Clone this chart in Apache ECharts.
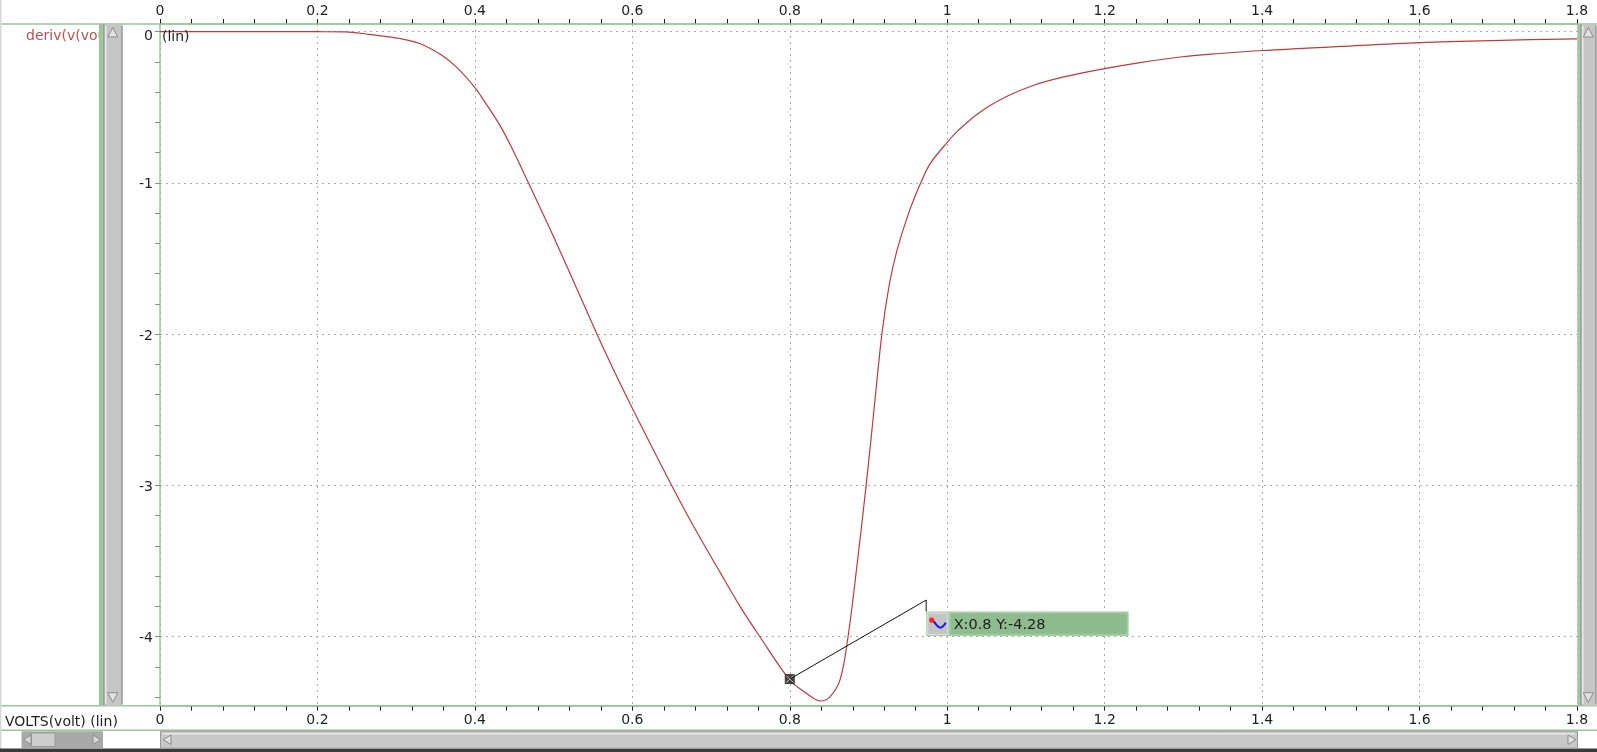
<!DOCTYPE html>
<html>
<head>
<meta charset="utf-8">
<script src="https://cdn.jsdelivr.net/npm/echarts@6/dist/echarts.min.js"></script>
<style>
html,body{margin:0;padding:0;background:#fff;overflow:hidden;}
#c{width:1597px;height:752px;}
</style>
</head>
<body>
<div id="c"></div>
<script>
// ---------- data ----------
const traceName = 'deriv(v(vout))';
const xAxisTitle = 'VOLTS(volt) (lin)';
const yUnitText = '(lin)';
const xValues = [0, 0.1, 0.2, 0.235, 0.265, 0.305, 0.33, 0.358, 0.377, 0.4, 0.413, 0.432, 0.447, 0.468, 0.5, 0.534, 0.567, 0.6, 0.65, 0.678, 0.712, 0.737, 0.762, 0.8, 0.82, 0.839, 0.851, 0.864, 0.874, 0.886, 0.897, 0.907, 0.917, 0.926, 0.936, 0.951, 0.966, 0.978, 1.0, 1.014, 1.042, 1.076, 1.11, 1.148, 1.2, 1.245, 1.296, 1.347, 1.4, 1.457, 1.5, 1.601, 1.703, 1.8];
const yValues = [0, 0, -0.001, -0.002, -0.018, -0.046, -0.079, -0.157, -0.237, -0.37, -0.468, -0.622, -0.77, -1.0, -1.357, -1.753, -2.135, -2.49, -3.0, -3.272, -3.58, -3.801, -4.0, -4.286, -4.37, -4.425, -4.398, -4.282, -4.0, -3.5, -3.0, -2.5, -2.0, -1.685, -1.45, -1.2, -1.005, -0.876, -0.732, -0.653, -0.531, -0.428, -0.355, -0.3, -0.245, -0.205, -0.168, -0.145, -0.125, -0.11, -0.098, -0.073, -0.058, -0.048];
const xMin = 0, xMax = 1.8, xStep = 0.2;
const yMin = -4.456, yMax = 0.05;
const yTickLabels = [0, -1, -2, -3, -4];
const yMinorTicks = [0, -0.2, -0.4, -0.6, -0.8, -1, -1.2, -1.4, -1.6, -1.8, -2, -2.2, -2.4, -2.6, -2.8, -3, -3.2, -3.4, -3.6, -3.8, -4, -4.2, -4.4];
const cursorPoint = [0.8, -4.28];
const cursorText = 'X:0.8 Y:-4.28';

// ---------- style ----------
const FONT = "'DejaVu Sans', sans-serif";
const GREEN = '#96c896';
const TXT = '#1e1e1e';
const GRID = '#aaaaaa';
const RED = '#c03a3a';

const chart = echarts.init(document.getElementById('c'), null, {renderer: 'canvas'});
const seriesData = xValues.map((x, i) => [x, yValues[i]]);

const fmt = v => String(parseFloat(Number(v).toFixed(1)));

const xAxisBase = {
  type: 'value', min: xMin, max: xMax, interval: xStep, gridIndex: 0,
  axisLine: {show: true, onZero: false, lineStyle: {color: GREEN, width: 1.5}},
  axisTick: {show: true, length: 5, lineStyle: {color: TXT}},
  minorTick: {show: true, splitNumber: 5, length: 5, lineStyle: {color: TXT}},
  axisLabel: {show: true, color: TXT, fontFamily: FONT, fontSize: 14, showMinLabel: true, showMaxLabel: true, formatter: fmt},
  minorSplitLine: {show: false}
};

const option = {
  animation: false,
  backgroundColor: '#ffffff',
  grid: {left: 160, right: 20, top: 24, bottom: 46.3, containLabel: false},
  xAxis: [
    Object.assign({}, xAxisBase, {position: 'bottom',
      axisLabel: Object.assign({}, xAxisBase.axisLabel, {margin: 8}),
      splitLine: {show: true, lineStyle: {color: GRID, type: [2, 4], width: 1}}}),
    Object.assign({}, xAxisBase, {position: 'top',
      axisLabel: Object.assign({}, xAxisBase.axisLabel, {margin: 6}),
      splitLine: {show: false}})
  ],
  yAxis: [{
    type: 'value', min: yMin, max: yMax, position: 'left',
    axisLine: {show: true, onZero: false, lineStyle: {color: GREEN, width: 1.5}},
    axisTick: {show: true, length: 5, customValues: yMinorTicks, lineStyle: {color: '#8a8a8a'}},
    axisLabel: {show: true, customValues: yTickLabels, color: TXT, fontFamily: FONT, fontSize: 14, margin: 7,
      formatter: v => (Number(v) === 0 ? '{z|0}' : '{n|' + fmt(v) + '}'),
      rich: {
        z: {fontFamily: FONT, fontSize: 14, color: TXT, padding: [10, 0, 0, 0]},
        n: {fontFamily: FONT, fontSize: 14, color: TXT, padding: [4, 0, 0, 0]}
      }},
    splitLine: {show: false}
  }],
  series: [
    {
      type: 'line', xAxisIndex: 0, yAxisIndex: 0, data: seriesData, showSymbol: false, symbol: 'none',
      smooth: 0.35, z: 3,
      lineStyle: {color: RED, width: 1.2},
      markLine: {
        silent: true, symbol: ['none', 'none'], z: 1, animation: false,
        label: {show: false},
        lineStyle: {color: GRID, type: [2, 4], width: 1},
        data: yTickLabels.map(v => ({yAxis: v}))
      }
    },
    {
      type: 'scatter', xAxisIndex: 0, yAxisIndex: 0, data: [cursorPoint], z: 6,
      symbol: 'rect', symbolSize: 10, itemStyle: {color: '#111'}, silent: true
    },
    {
      type: 'scatter', xAxisIndex: 0, yAxisIndex: 0, data: [cursorPoint], z: 7,
      symbol: 'path://M0,0L10,10M10,0L0,10', symbolSize: 7,
      itemStyle: {color: 'none', borderColor: '#ffffff', borderWidth: 1}, silent: true
    }
  ]
};
chart.setOption(option);

// ---------- chrome / annotation ----------
function vScroll(x0, w, y0, y1, leftGreenW) {
  const cx = x0 + leftGreenW + (w - leftGreenW) / 2;
  return [
    {type: 'rect', shape: {x: x0, y: y0, width: w, height: y1 - y0}, style: {fill: '#c6c6c6'}, z: 50},
    {type: 'rect', shape: {x: x0, y: y0, width: leftGreenW, height: y1 - y0}, style: {fill: GREEN}, z: 51},
    {type: 'rect', shape: {x: x0 + leftGreenW + 0.5, y: y0, width: 1.5, height: y1 - y0}, style: {fill: '#9a9a9a'}, z: 51},
    {type: 'rect', shape: {x: x0 + leftGreenW + 2.5, y: y0 + 2, width: 1.5, height: y1 - y0 - 4}, style: {fill: '#e8e8e8'}, z: 51},
    {type: 'rect', shape: {x: x0 + w - 2, y: y0 + 2, width: 1.5, height: y1 - y0 - 4}, style: {fill: '#a0a0a0'}, z: 51},
    {type: 'polygon', shape: {points: [[cx, y0 + 3.5], [cx - 5, y0 + 13], [cx + 5, y0 + 13]]}, style: {fill: '#e2e2e2', stroke: '#8a8a8a', lineWidth: 1}, z: 52},
    {type: 'polygon', shape: {points: [[cx, y1 - 3.5], [cx - 5, y1 - 13], [cx + 5, y1 - 13]]}, style: {fill: '#e2e2e2', stroke: '#8a8a8a', lineWidth: 1}, z: 52}
  ];
}

const p = chart.convertToPixel({seriesIndex: 1}, cursorPoint);
const bx = p[0] + 136.4, by = p[1] - 67.5;

const graphics = [
  {type: 'text', x: 26, y: 36, style: {text: traceName, fill: '#c0504d', font: '14px ' + FONT, textVerticalAlign: 'middle'}, z: 40},
  {type: 'text', x: 162, y: 37, style: {text: yUnitText, fill: TXT, font: '14px ' + FONT, textVerticalAlign: 'middle'}, z: 40},
  {type: 'text', x: 5, y: 722, style: {text: xAxisTitle, fill: TXT, font: '14px ' + FONT, textVerticalAlign: 'middle'}, z: 40},
  {type: 'rect', shape: {x: 123, y: 25, width: 10, height: 22}, style: {fill: '#ffffff'}, z: 41},
  // frame lines
  {type: 'rect', shape: {x: 0, y: 23.3, width: 1597, height: 1.5}, style: {fill: GREEN}, z: 45},
  {type: 'rect', shape: {x: 0, y: 705, width: 1597, height: 1.5}, style: {fill: GREEN}, z: 45},
  {type: 'rect', shape: {x: 0, y: 729.5, width: 1597, height: 1.5}, style: {fill: GREEN}, z: 45},
  {type: 'rect', shape: {x: 0, y: 0, width: 1.5, height: 749}, style: {fill: '#d8d8d8'}, z: 45},
  {type: 'rect', shape: {x: 0, y: 748.5, width: 1597, height: 3.5}, style: {fill: '#3a3a3a'}, z: 45},
  // bottom-left small horizontal scrollbar
  {type: 'rect', shape: {x: 21.5, y: 731.2, width: 81.5, height: 17}, style: {fill: '#a9a9a9'}, z: 50},
  {type: 'rect', shape: {x: 31.5, y: 733, width: 23.5, height: 13.5}, style: {fill: '#cdcdcd', stroke: '#9a9a9a', lineWidth: 1}, z: 51},
  {type: 'polygon', shape: {points: [[23.5, 739.7], [31, 735], [31, 744.4]]}, style: {fill: '#d8d8d8', stroke: '#8a8a8a', lineWidth: 1}, z: 52},
  {type: 'polygon', shape: {points: [[100.5, 739.7], [93, 735], [93, 744.4]]}, style: {fill: '#d8d8d8', stroke: '#8a8a8a', lineWidth: 1}, z: 52},
  // bottom main horizontal scrollbar
  {type: 'rect', shape: {x: 160.5, y: 731.2, width: 1417, height: 17}, style: {fill: '#c8c8c8', stroke: '#9a9a9a', lineWidth: 1}, z: 50},
  {type: 'rect', shape: {x: 163, y: 733, width: 1412, height: 1.5}, style: {fill: '#e6e6e6'}, z: 51},
  {type: 'polygon', shape: {points: [[163, 739.7], [171, 735], [171, 744.4]]}, style: {fill: '#e2e2e2', stroke: '#8a8a8a', lineWidth: 1}, z: 52},
  {type: 'polygon', shape: {points: [[1576, 739.7], [1568, 735], [1568, 744.4]]}, style: {fill: '#e2e2e2', stroke: '#8a8a8a', lineWidth: 1}, z: 52},
  // cursor leader
  {type: 'polyline', shape: {points: [[p[0], p[1]], [bx, p[1] - 79], [bx, by]]}, style: {stroke: '#111', lineWidth: 1, fill: null}, z: 60},
  // tooltip
  {type: 'rect', shape: {x: bx, y: by, width: 202.5, height: 24.5}, style: {fill: '#a6cfa6'}, z: 61},
  {type: 'rect', shape: {x: bx + 1.5, y: by + 1.5, width: 20, height: 21.5}, style: {fill: '#c4c4c4', stroke: '#e0e0e0', lineWidth: 1}, z: 62},
  {type: 'rect', shape: {x: bx + 24, y: by + 1.5, width: 177, height: 21.5}, style: {fill: '#8fbc8f', stroke: '#a2cba2', lineWidth: 1}, z: 62},
  {type: 'polyline', shape: {points: [[bx + 4, by + 9], [bx + 7, by + 9.5], [bx + 10, by + 13], [bx + 13.5, by + 16], [bx + 17, by + 14.5], [bx + 19.5, by + 11]], smooth: 0.5}, style: {stroke: '#1414ff', lineWidth: 2, fill: null}, z: 63},
  {type: 'circle', shape: {cx: bx + 5.5, cy: by + 8.5, r: 2.6}, style: {fill: '#ff2020'}, z: 64},
  {type: 'text', x: bx + 27.5, y: by + 13.5, style: {text: cursorText, fill: TXT, font: '14.5px ' + FONT, textVerticalAlign: 'middle'}, z: 65}
].concat(vScroll(99, 24, 24, 705.7, 3.5), vScroll(1577.5, 19.5, 24, 705.7, 2));

chart.setOption({graphic: graphics});
</script>
</body>
</html>
